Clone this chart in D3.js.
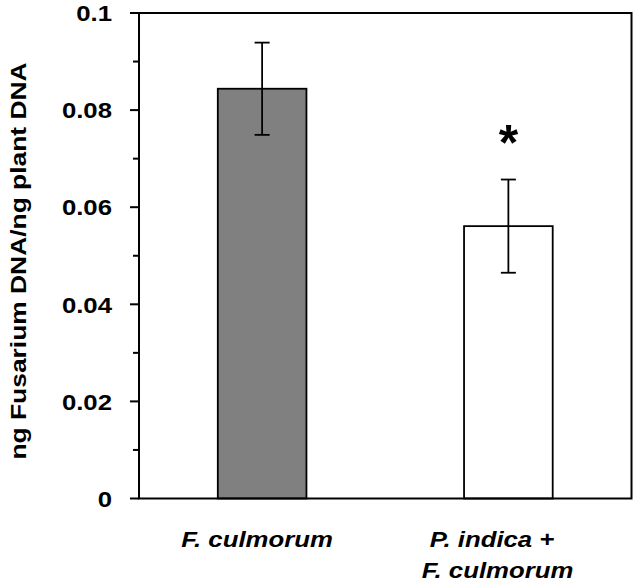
<!DOCTYPE html>
<html>
<head>
<meta charset="utf-8">
<script src="https://cdn.jsdelivr.net/npm/d3@7"></script>
<style>
body { margin: 0; background: #fff; }
svg { display: block; font-family: "Liberation Sans", Arial, sans-serif; }
</style>
</head>
<body>
<svg width="633" height="584"></svg>
<script>
// data
var groups = ["F. culmorum", "P. indica + F. culmorum"];
var means = [0.0844, 0.0561];
var errs = [0.0095, 0.0096];
var fills = ["#808080", "#ffffff"];
var signif = ["", "*"];
var yTicks = [0, 0.02, 0.04, 0.06, 0.08, 0.1];
var yTickLabels = ["0", "0.02", "0.04", "0.06", "0.08", "0.1"];

var svg = d3.select('svg');
var plotLeft = 139, plotRight = 631.5, plotTop = 13, plotBottom = 498.5;

var y = d3.scaleLinear().domain([0, 0.1]).range([plotBottom, plotTop]);
var x = d3.scaleBand().domain(groups).range([plotLeft, plotRight]).paddingInner(0.64).paddingOuter(0.32);

var g = svg.append('g');

// bars
g.selectAll('rect.bar')
	.data(groups)
	.join('rect')
	.attr('class', 'bar')
	.attr('x', function(d) { return x(d); })
	.attr('y', function(d, i) { return y(means[i]); })
	.attr('width', x.bandwidth())
	.attr('height', function(d, i) { return y(0) - y(means[i]); })
	.attr('fill', function(d, i) { return fills[i]; })
	.attr('stroke', '#000')
	.attr('stroke-width', 1.8);

// error bars
groups.forEach(function(d, i) {
	var cx = x(d) + x.bandwidth() / 2;
	g.append('line')
		.attr('x1', cx).attr('x2', cx)
		.attr('y1', y(means[i] + errs[i])).attr('y2', y(means[i] - errs[i]))
		.attr('stroke', '#000').attr('stroke-width', 1.8);
	[means[i] + errs[i], means[i] - errs[i]].forEach(function(v) {
		g.append('line')
			.attr('x1', cx - 7.5).attr('x2', cx + 7.5)
			.attr('y1', y(v)).attr('y2', y(v))
			.attr('stroke', '#000').attr('stroke-width', 1.8);
	});
	if (signif[i]) {
		g.append('text')
			.attr('x', cx)
			.attr('y', y(means[i] + errs[i]) - 20)
			.attr('text-anchor', 'middle')
			.attr('font-size', 50)
			.attr('font-weight', 'bold')
			.text(signif[i]);
	}
});

// frame
g.append('rect')
	.attr('x', plotLeft).attr('y', plotTop)
	.attr('width', plotRight - plotLeft).attr('height', plotBottom - plotTop)
	.attr('fill', 'none')
	.attr('stroke', '#000')
	.attr('stroke-width', 2);

// y axis ticks
var minor = [0.01, 0.03, 0.05, 0.07, 0.09];
g.selectAll('line.minor')
	.data(minor)
	.join('line')
	.attr('class', 'minor')
	.attr('x1', plotLeft - 6).attr('x2', plotLeft)
	.attr('y1', function(d) { return y(d); })
	.attr('y2', function(d) { return y(d); })
	.attr('stroke', '#000').attr('stroke-width', 2);

g.selectAll('line.major')
	.data(yTicks)
	.join('line')
	.attr('class', 'major')
	.attr('x1', plotLeft - 9).attr('x2', plotLeft)
	.attr('y1', function(d) { return y(d); })
	.attr('y2', function(d) { return y(d); })
	.attr('stroke', '#000').attr('stroke-width', 2);

// text in the figure is a bit wider than Arial, so stretch it
var sx = 1.12;

g.selectAll('text.ytick')
	.data(yTicks)
	.join('text')
	.attr('class', 'ytick')
	.attr('transform', function(d) { return 'translate(112,' + y(d) + ') scale(' + sx + ',1)'; })
	.attr('dy', '0.36em')
	.attr('text-anchor', 'end')
	.attr('font-size', 23)
	.attr('font-weight', 'bold')
	.text(function(d, i) { return yTickLabels[i]; });

// y label
g.append('text')
	.attr('transform', 'translate(26,261) rotate(-90) scale(1.2,1)')
	.attr('text-anchor', 'middle')
	.attr('font-size', 22)
	.attr('font-weight', 'bold')
	.text('ng Fusarium DNA/ng plant DNA');

// category labels
var catLines = [["F. culmorum"], ["P. indica +", "F. culmorum"]];
var catX = [[257], [492, 497.5]];
groups.forEach(function(d, i) {
	catLines[i].forEach(function(s, j) {
		g.append('text')
			.attr('transform', 'translate(' + catX[i][j] + ',' + (547 + j * 31) + ') scale(' + sx + ',1)')
			.attr('text-anchor', 'middle')
			.attr('font-size', 23)
			.attr('font-weight', 'bold')
			.attr('font-style', 'italic')
			.text(s);
	});
});
</script>
</body>
</html>
